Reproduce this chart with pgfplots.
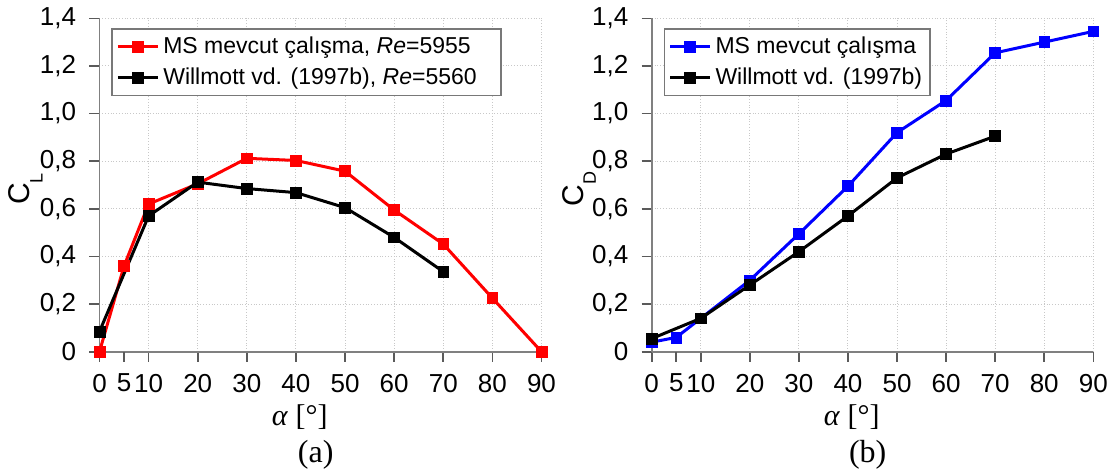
\documentclass[border=0pt]{standalone}
\usepackage{pgfplots}
\pgfplotsset{compat=1.18}
\usepackage{fontspec}
\setmainfont{Liberation Sans}
\newfontfamily\seriffont{Liberation Serif}
\definecolor{axisgray}{RGB}{128,128,128}
\definecolor{tickgray}{RGB}{90,90,90}
\definecolor{gridgray}{RGB}{200,200,200}
\definecolor{legendgray}{RGB}{120,120,120}
\definecolor{myred}{RGB}{255,0,0}
\definecolor{myblue}{RGB}{0,0,255}
\pgfplotsset{
 myaxis/.style={
  scale only axis, width=221pt, height=166.7pt,
  xmin=0, xmax=90, ymin=0, ymax=1.4,
  axis x line*=bottom, axis y line*=left,
  axis line style={draw=axisgray, line width=0.8pt},
  xtick={0,10,20,30,40,50,60,70,80,90},
  extra x ticks={5}, extra x tick style={grid=none},
  ytick={0,0.2,0.4,0.6,0.8,1.0,1.2,1.4},
  yticklabels={0,{0,2},{0,4},{0,6},{0,8},{1,0},{1,2},{1,4}},
  grid=major, major grid style={densely dotted, draw=gridgray, line width=0.5pt},
  tick align=outside, major tick length=5pt,
  tick style={draw=tickgray, line width=0.8pt},
  ticklabel style={font=\fontsize{13}{15}\selectfont},
  xticklabel style={anchor=north, inner sep=0pt, yshift=-6pt},
  yticklabel style={anchor=east, inner sep=0pt, xshift=-6.5pt},
  /pgf/number format/assume math mode=true,
  clip=false,
  legend cell align=left,
  legend style={at={(axis description cs:0,1)}, anchor=north west, xshift=6pt, yshift=-5pt,
    draw=legendgray, line width=0.8pt, fill=white, font=\fontsize{11.5}{13.5}\selectfont,
    inner xsep=2pt, inner ysep=2pt, row sep=1.5pt},
  legend image code/.code={\draw[mark repeat=2,mark phase=2] plot coordinates {(0pt,0pt)(10pt,0pt)(20pt,0pt)};},
 },
 myplot/.style={line width=1.5pt, mark=square*, mark size=2.7pt, mark options={solid, line width=0.3pt}},
}
\begin{document}
\begin{tikzpicture}
\useasboundingbox (-49.75pt,-59.65pt) rectangle (504.25pt,175.85pt);
\begin{axis}[myaxis]
\addplot[myplot, color=myred] coordinates {(0,0)(5,0.36)(10,0.62)(20,0.705)(30,0.812)(40,0.803)(50,0.758)(60,0.595)(70,0.452)(80,0.225)(90,0)};
\addlegendentry{MS mevcut çalışma, \textit{Re}=5955}
\addplot[myplot, color=black] coordinates {(0,0.085)(10,0.57)(20,0.712)(30,0.685)(40,0.668)(50,0.605)(60,0.48)(70,0.336)};
\addlegendentry{Willmott vd. (1997b), \textit{Re}=5560\hspace*{8pt}}
\node[xshift=-34.75pt, yshift=-2pt, rotate=90, anchor=base, inner sep=0pt] at (rel axis cs:0,0.5) {\fontsize{15}{17}\selectfont C\raisebox{-6.3pt}{\fontsize{9}{10}\selectfont L}};
\node[xshift=-10.4pt, yshift=-32.6pt, anchor=center] at (rel axis cs:0.5,0) {\seriffont\fontsize{15}{17}\selectfont \textit{α} [°]};
\node[xshift=-2.4pt, yshift=-51.5pt, anchor=center] at (rel axis cs:0.5,0) {\seriffont\fontsize{16}{18}\selectfont (a)};
\end{axis}
\begin{axis}[myaxis, xshift=276.1pt, width=220.8pt]
\addplot[myplot, color=myblue] coordinates {(0,0.04)(5,0.06)(10,0.14)(20,0.30)(30,0.495)(40,0.695)(50,0.92)(60,1.055)(70,1.255)(80,1.30)(90,1.345)};
\addlegendentry{MS mevcut çalışma}
\addplot[myplot, color=black] coordinates {(0,0.055)(10,0.14)(20,0.28)(30,0.42)(40,0.57)(50,0.73)(60,0.83)(70,0.905)};
\addlegendentry{Willmott vd. (1997b)}
\node[xshift=-34.2pt, yshift=-2pt, rotate=90, anchor=base, inner sep=0pt] at (rel axis cs:0,0.5) {\fontsize{15}{17}\selectfont C\raisebox{-6.3pt}{\fontsize{9}{10}\selectfont D}};
\node[xshift=-10.4pt, yshift=-32.6pt, anchor=center] at (rel axis cs:0.5,0) {\seriffont\fontsize{15}{17}\selectfont \textit{α} [°]};
\node[xshift=-2.4pt, yshift=-51.5pt, anchor=center] at (rel axis cs:0.5,0) {\seriffont\fontsize{16}{18}\selectfont (b)};
\end{axis}
\end{tikzpicture}
\end{document}
